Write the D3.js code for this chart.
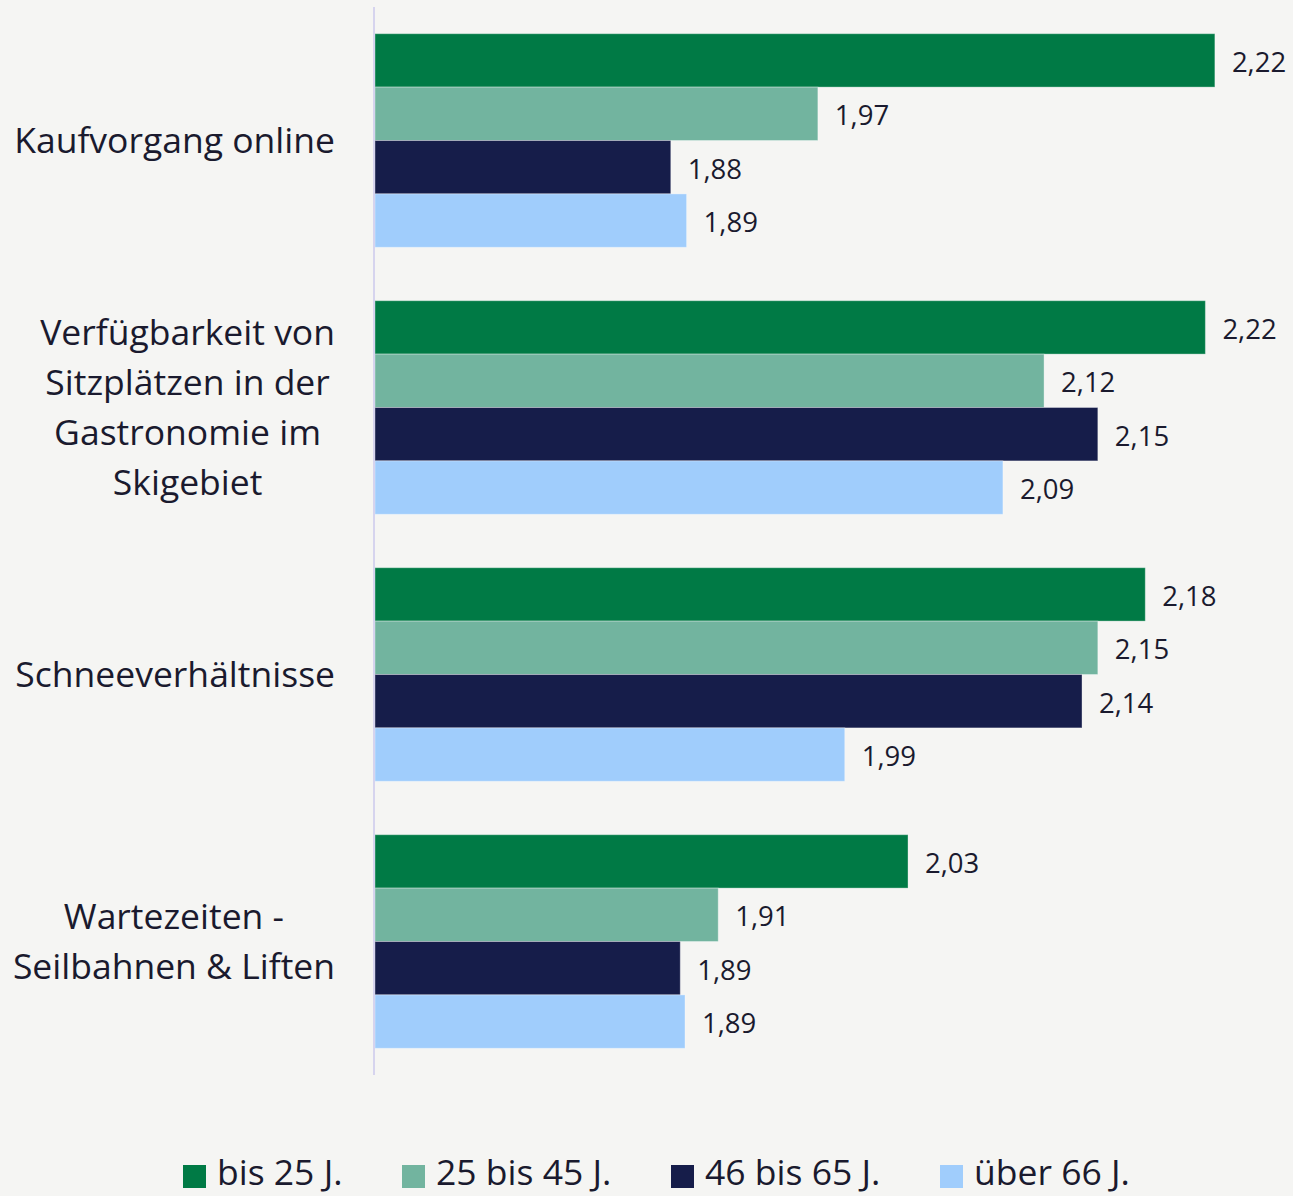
<!DOCTYPE html>
<html>
<head>
<meta charset="utf-8">
<script src="https://cdn.jsdelivr.net/npm/d3@7"></script>
<style>
	body { margin: 0; background: #f5f5f3; }
	svg { display: block; font-family: 'Open Sans', 'Noto Sans', sans-serif; }
</style>
</head>
<body>
<svg id="chart" width="1293" height="1196"></svg>
<script>
const categories = [
	['Kaufvorgang online'],
	['Verfügbarkeit von', 'Sitzplätzen in der', 'Gastronomie im', 'Skigebiet'],
	['Schneeverhältnisse'],
	['Wartezeiten -', 'Seilbahnen & Liften']
];
const seriesNames = ['bis 25 J.', '25 bis 45 J.', '46 bis 65 J.', 'über 66 J.'];
const colors = ['#007a45', '#72b49f', '#161d4a', '#a0cdfc'];
// one row per category, one value per series
const bis25 = [2.224, 2.218, 2.18, 2.03];
const bis45 = [1.973, 2.116, 2.15, 1.91];
const bis65 = [1.88, 2.15, 2.14, 1.886];
const ueber66 = [1.89, 2.09, 1.99, 1.889];

const series = [bis25, bis45, bis65, ueber66];
const rows = categories.map((c, i) => ({
	idx: i,
	lines: c,
	values: series.map((s, k) => ({ key: seriesNames[k], k: k, v: s[i] }))
}));

const svg = d3.select('#chart');
const textColor = '#1a1a2e';
const fmt = (v) => d3.format('.2f')(v).replace('.', ',');

const x = d3.scaleLinear().domain([1.693, 2.25]).range([375, 1256]);
const y = d3.scaleBand().domain(d3.range(categories.length)).range([7, 1075])
	.paddingInner(0.2).paddingOuter(0.1);
const ySub = d3.scaleBand().domain(d3.range(seriesNames.length)).range([0, y.bandwidth()]);

const groups = svg.selectAll('g.group').data(rows).enter()
	.append('g')
	.attr('class', 'group')
	.attr('transform', (d) => `translate(0,${y(d.idx)})`);

groups.selectAll('rect').data((d) => d.values).enter()
	.append('rect')
	.attr('x', x(x.domain()[0]))
	.attr('y', (d) => ySub(d.k))
	.attr('width', (d) => x(d.v) - x(x.domain()[0]))
	.attr('height', ySub.bandwidth())
	.attr('fill', (d) => colors[d.k])
	.attr('stroke', 'rgba(255,255,255,0.35)')
	.attr('stroke-width', 1);

groups.selectAll('text.val').data((d) => d.values).enter()
	.append('text')
	.attr('class', 'val')
	.attr('x', (d) => x(d.v) + 17)
	.attr('y', (d) => ySub(d.k) + ySub.bandwidth() / 2 + 2)
	.attr('dy', '0.35em')
	.attr('font-size', 27.5)
	.attr('fill', textColor)
	.text((d) => fmt(d.v));

// axis line
svg.append('line')
	.attr('x1', 374).attr('x2', 374)
	.attr('y1', y.range()[0]).attr('y2', y.range()[1])
	.attr('stroke', '#d6d4ee')
	.attr('stroke-width', 2);

// category labels: block right-aligned, lines centered within block
const lineH = 50;
const labelRight = 335;
groups.each(function (d) {
	const g = d3.select(this);
	const t = g.append('text')
		.attr('font-size', 35.5)
		.attr('fill', textColor)
		.attr('text-anchor', 'middle');
	const n = d.lines.length;
	const spans = t.selectAll('tspan').data(d.lines).enter()
		.append('tspan')
		.attr('y', (l, i) => y.bandwidth() / 2 + (i - (n - 1) / 2) * lineH)
		.attr('dy', '0.35em')
		.text((l) => l);
	let maxW = 0;
	spans.each(function () { maxW = Math.max(maxW, this.getComputedTextLength()); });
	spans.attr('x', labelRight - maxW / 2);
});

// legend
const legend = svg.append('g').attr('transform', 'translate(0,1176)');
const items = legend.selectAll('g').data(seriesNames).enter().append('g');
items.append('rect')
	.attr('y', -11).attr('width', 23).attr('height', 23)
	.attr('fill', (d, i) => colors[i]);
items.append('text')
	.attr('x', 34).attr('y', 9)
	.attr('font-size', 35.5)
	.attr('fill', textColor)
	.text((d) => d);
const legendX = [183, 402, 671, 940];
items.attr('transform', (d, i) => `translate(${legendX[i]},0)`);
</script>
</body>
</html>
